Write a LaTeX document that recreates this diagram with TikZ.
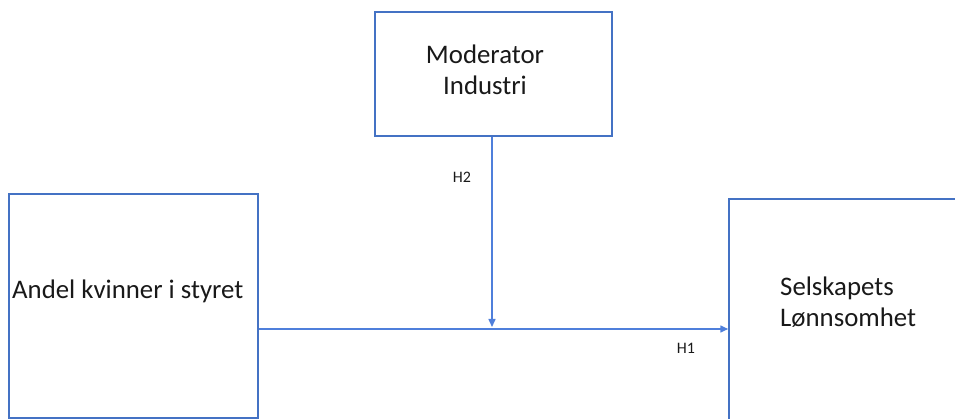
\documentclass[tikz,border=0pt]{standalone}
\usepackage{fontspec}
\setmainfont{Carlito}
\usetikzlibrary{arrows.meta}
\definecolor{boxblue}{HTML}{4472C4}
\definecolor{arrblue}{HTML}{4F7FDB}
\tikzset{
  box/.style={draw=boxblue, line width=1.5pt, rectangle, inner sep=0pt, fill=white},
  bigtext/.style={font=\fontsize{26.8}{31}\selectfont, inner sep=0pt, text=black!90},
  hlabel/.style={font=\fontsize{16}{18}\selectfont, inner sep=0pt, text=black!90},
  conn/.style={draw=arrblue, line width=1.5pt, -{Triangle[length=8pt,width=7pt]}}
}
\begin{document}
\begin{tikzpicture}[x=1pt,y=-1pt]
\useasboundingbox (0,0) rectangle (955,419);
\begin{scope}
\clip (0,0) rectangle (955,419);
\node[box, minimum width=237pt, minimum height=124pt] (mod) at (493.5,74) {};
\node[box, minimum width=249pt, minimum height=224pt] (andel) at (133.5,306) {};
\node[box, minimum width=246pt, minimum height=246pt] (sel) at (852,322) {};
\end{scope}
\node[bigtext, align=center] (modtext) at (485,70) {Moderator\\Industri};
\node[bigtext, anchor=west] (andeltext) at (12,291) {Andel kvinner i styret};
\node[bigtext, align=left, anchor=west] (seltext) at (780,302) {Selskapets\\Lønnsomhet};
\coordinate (join) at (492,327);
\draw[conn] (andel.east |- 0,329) -- (sel.west |- 0,329);
\draw[conn] (mod.south -| join) -- (join);
\node[hlabel] (h2) at (462,177) {H2};
\node[hlabel] (h1) at (686,348) {H1};
\end{tikzpicture}
\end{document}
